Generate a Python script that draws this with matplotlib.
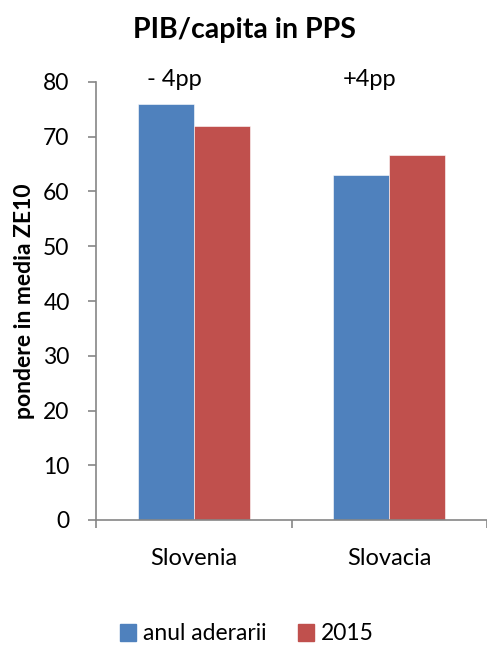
import numpy as np
import matplotlib
matplotlib.use('Agg')
import matplotlib.pyplot as plt
from matplotlib.patches import Patch

plt.rcParams['font.family'] = ['Lato', 'DejaVu Sans']

# data
countries = ['Slovenia', 'Slovacia']
anul_aderarii = [76, 63]
an_2015 = [72, 66.7]
diffs = ['- 4pp', '+4pp']
yticks = [0, 10, 20, 30, 40, 50, 60, 70, 80]

blue = '#4F81BD'
red = '#C0504D'
grey = '#868686'

fig = plt.figure(figsize=(4.87, 6.46), dpi=100)
ax = fig.add_axes([96/487, 126/646, 391/487, 438/646])

x = np.arange(len(countries))
w = 0.287
ax.bar(x - w/2, anul_aderarii, w, color=blue, edgecolor='white', linewidth=0.4, label='anul aderarii')
ax.bar(x + w/2, an_2015, w, color=red, edgecolor='white', linewidth=0.4, label='2015')

ax.set_ylim(0, 80)
ax.set_xlim(-0.5, -0.5 + 391/199)
ax.set_yticks(yticks)
ax.set_xticks(x)
ax.set_xticklabels(countries, fontsize=17)
ax.set_xticks([-0.5, 0.5, 1.5], minor=True)

for s in ['top', 'right']:
    ax.spines[s].set_visible(False)
for s in ['left', 'bottom']:
    ax.spines[s].set_color(grey)
    ax.spines[s].set_linewidth(1.2)

ax.tick_params(axis='y', direction='out', length=6, width=1.2, color=grey, pad=13, labelsize=16.5)
ax.tick_params(axis='x', which='major', length=0, pad=20)
ax.tick_params(axis='x', which='minor', direction='out', length=6, width=1.2, color=grey)

# diff labels above the bars
for i, d in enumerate(diffs):
    ax.text(x[i] - 0.1, 80.4, d, ha='center', va='center', fontsize=17, clip_on=False)

ax.set_ylabel('pondere in media ZE10', fontsize=16.5, fontweight='bold', labelpad=6)
fig.text(244/487, 1 - 30/646, 'PIB/capita in PPS', ha='center', va='center',
         fontsize=20.5, fontweight='bold')

handles = [Patch(color=blue, label='anul aderarii'), Patch(color=red, label='2015')]
fig.legend(handles=handles, loc='center', bbox_to_anchor=(247/487, 1 - 634/646), ncol=2,
           frameon=False, fontsize=16.5, handlelength=0.7, handleheight=0.7,
           handletextpad=0.3, columnspacing=1.4)

fig.savefig('out.png', dpi=100)
